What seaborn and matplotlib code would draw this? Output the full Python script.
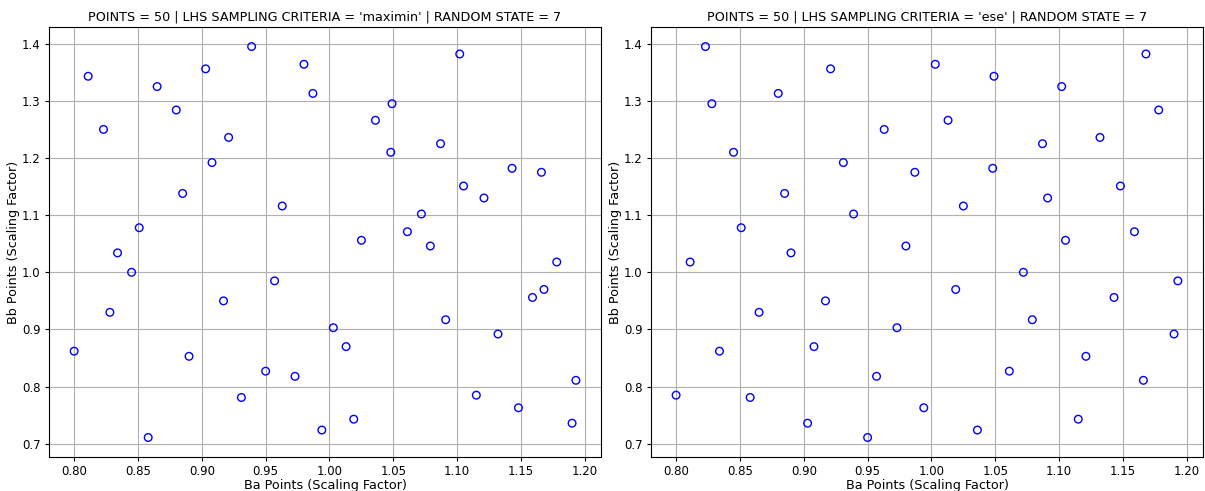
import matplotlib
matplotlib.use("Agg")
import matplotlib.pyplot as plt
import seaborn as sns
import pandas as pd

ba_points = [0.800, 0.811, 0.823, 0.828, 0.834, 0.845, 0.851, 0.858, 0.865, 0.880,
             0.885, 0.890, 0.903, 0.908, 0.917, 0.921, 0.931, 0.939, 0.950, 0.957,
             0.963, 0.973, 0.980, 0.987, 0.994, 1.003, 1.013, 1.019, 1.025, 1.036,
             1.048, 1.049, 1.061, 1.072, 1.079, 1.087, 1.091, 1.102, 1.105, 1.115,
             1.121, 1.132, 1.143, 1.148, 1.159, 1.166, 1.168, 1.178, 1.190, 1.193]

bb_maximin = [0.862, 1.343, 1.250, 0.930, 1.034, 1.000, 1.078, 0.711, 1.325, 1.284,
              1.138, 0.853, 1.356, 1.192, 0.950, 1.236, 0.781, 1.395, 0.827, 0.985,
              1.116, 0.818, 1.364, 1.313, 0.724, 0.903, 0.870, 0.743, 1.056, 1.266,
              1.210, 1.295, 1.071, 1.102, 1.046, 1.225, 0.917, 1.382, 1.151, 0.785,
              1.130, 0.892, 1.182, 0.763, 0.956, 1.175, 0.970, 1.018, 0.736, 0.811]

bb_ese = [0.785, 1.018, 1.395, 1.295, 0.862, 1.210, 1.078, 0.781, 0.930, 1.313,
          1.138, 1.034, 0.736, 0.870, 0.950, 1.356, 1.192, 1.102, 0.711, 0.818,
          1.250, 0.903, 1.046, 1.175, 0.763, 1.364, 1.266, 0.970, 1.116, 0.724,
          1.182, 1.343, 0.827, 1.000, 0.917, 1.225, 1.130, 1.325, 1.056, 0.743,
          0.853, 1.236, 0.956, 1.151, 1.071, 0.811, 1.382, 1.284, 0.892, 0.985]

titles = ["POINTS = 50 | LHS SAMPLING CRITERIA = 'maximin' | RANDOM STATE = 7",
          "POINTS = 50 | LHS SAMPLING CRITERIA = 'ese' | RANDOM STATE = 7"]

plt.rcParams['font.family'] = ['DejaVu Sans']
fs = 9.2
fig, axes = plt.subplots(1, 2, figsize=(12.05, 4.91), dpi=100)
fig.subplots_adjust(left=0.0407, right=0.9983, top=0.945, bottom=0.0692, wspace=0.0906)

for ax, bb, title in zip(axes, [bb_maximin, bb_ese], titles):
    df = pd.DataFrame({"Ba": ba_points, "Bb": bb})
    sns.scatterplot(data=df, x="Ba", y="Bb", ax=ax, marker="o", s=30,
                    facecolors="none", edgecolor="blue", linewidth=1.0)
    ax.grid(True, color="#b0b0b0", linewidth=0.8)
    ax.set_axisbelow(True)
    ax.set_title(title, fontsize=fs, pad=5)
    ax.set_xlabel("Ba Points (Scaling Factor)", fontsize=fs, labelpad=0.5)
    ax.set_ylabel("Bb Points (Scaling Factor)", fontsize=fs, labelpad=1.5)
    ax.tick_params(labelsize=fs * 0.92, length=3.2, pad=2.8)

fig.savefig("out.png", dpi=100)
